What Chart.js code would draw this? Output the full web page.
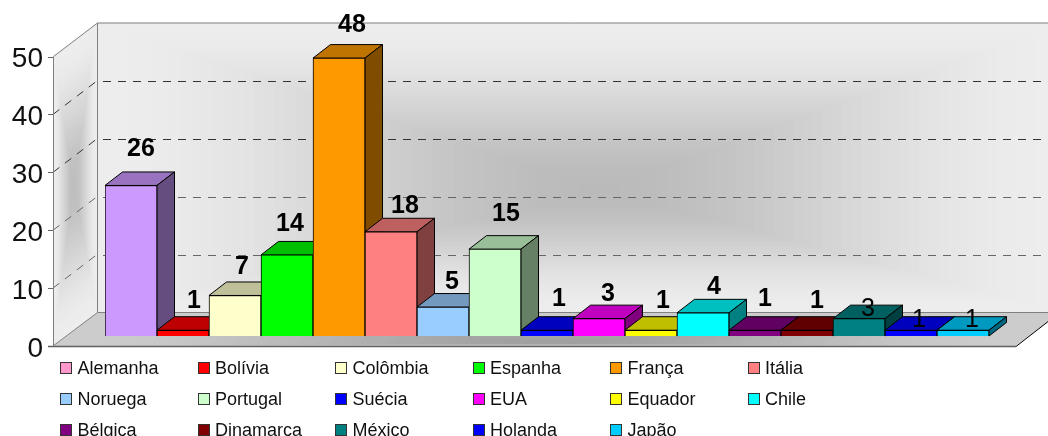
<!DOCTYPE html>
<html>
<head>
<meta charset="utf-8">
<title>Chart</title>
<script src="https://cdn.jsdelivr.net/npm/chart.js@4"></script>
<style>
html,body{margin:0;padding:0;background:#fff;overflow:hidden}
canvas{display:block}
</style>
</head>
<body>
<canvas id="myChart" width="1048" height="436"></canvas>
<script>
var categories = ["Alemanha","Bolívia","Colômbia","Espanha","França","Itália","Noruega","Portugal","Suécia","EUA","Equador","Chile","Bélgica","Dinamarca","México","Holanda","Japão"]
var values = [26,1,7,14,48,18,5,15,1,3,1,4,1,1,3,1,1]
var yTicks = [0,10,20,30,40,50]

var barColors = ["#cc99ff","#ff0000","#ffffcc","#00ff00","#ff9900","#ff8080","#99ccff","#ccffcc","#0000ff","#ff00ff","#ffff00","#00ffff","#800080","#800000","#008080","#0000ff","#00ccff"]
var legendColors = ["#ff99cc","#ff0000","#ffffcc","#00ff00","#ff9900","#ff8080","#99ccff","#ccffcc","#0000ff","#ff00ff","#ffff00","#00ffff","#800080","#800000","#008080","#0000ff","#00ccff"]

// where the value text sits relative to the front top of its bar (the original placed these by hand)
var labelShiftX = [10,11,7,3,13,14,9,11,12,9,12,11,10,10,9,8,9]
var labelShiftY = [36,29,28,31,33,26,25,35,31,25,29,26,31,29,10,10,10]
var labelBold = [1,1,1,1,1,1,1,1,1,1,1,1,1,1,0,0,0]

var fontName = '"Liberation Sans", Arial, sans-serif'
var wallDepth = {x:44, y:-33.5}
var barDepth = {x:17.5, y:-13.5}
var frontEdge = {x:53, y:10}   // front left corner of floor, y is offset from the bars base

function shade(hex, k){
    var n = parseInt(hex.slice(1),16)
    return "rgb("+Math.round((n>>16)*k)+","+Math.round(((n>>8)&255)*k)+","+Math.round((n&255)*k)+")"
}

function poly(ctx, pts){
    ctx.beginPath()
    pts.forEach(function(p,i){
        if(i==0) ctx.moveTo(p[0],p[1])
        else ctx.lineTo(p[0],p[1])
    })
    ctx.closePath()
}

// excel style "from center" fill, polygon shrinks to the center step by step
function pathFill(ctx, pts, center, edgeGray, midGray){
    var steps = 48
    for(var s=0;s<steps;s++){
        var t = s/steps
        var g = Math.round(edgeGray + (midGray-edgeGray)*t*t*(3-2*t))
        ctx.fillStyle = "rgb("+g+","+g+","+g+")"
        poly(ctx, pts.map(function(p){
            return [p[0]+(center[0]-p[0])*t, p[1]+(center[1]-p[1])*t]
        }))
        ctx.fill()
    }
}

var walls = {
    id:"walls",
    beforeDatasetsDraw:function(chart){
        var ctx = chart.ctx
        var y = chart.scales.y
        var W = chart.width
        var x0 = frontEdge.x
        var y0 = y.getPixelForValue(0)+frontEdge.y
        var y50 = y.getPixelForValue(50)+frontEdge.y
        var bx0 = x0+wallDepth.x
        var by0 = y0+wallDepth.y
        var by50 = y50+wallDepth.y
        var floorRight = chart.chartArea.right+27

        ctx.save()
        // back wall
        ctx.save()
        poly(ctx,[[bx0,by50],[W,by50],[W,by0],[bx0,by0]])
        ctx.clip()
        pathFill(ctx,[[bx0,by50],[W+16,by50],[W+16,by0],[bx0,by0]],[600,190],237,186)
        ctx.restore()
        // left wall
        pathFill(ctx,[[x0,y50],[bx0,by50],[bx0,by0],[x0,y0]],[74,185],237,190)
        // floor
        ctx.save()
        poly(ctx,[[x0,y0],[bx0,by0],[W,by0],[W,y0-(W-floorRight)*33.5/44],[floorRight,y0]])
        ctx.clip()
        pathFill(ctx,[[x0,y0],[bx0,by0],[floorRight+44,by0],[floorRight,y0]],[555,y0-3],204,160)
        ctx.restore()

        // grid, dashed on both walls
        ctx.lineWidth = 1
        yTicks.forEach(function(v){
            var py = y.getPixelForValue(v)+frontEdge.y
            if(v>0 && v<50){
                ctx.strokeStyle = v>=30 ? "#333" : "#666"
                ctx.setLineDash([8,7])
                ctx.beginPath()
                ctx.moveTo(x0,py)
                ctx.lineTo(bx0,py+wallDepth.y)
                ctx.stroke()
                ctx.beginPath()
                ctx.moveTo(bx0+6,Math.round(py+wallDepth.y)+0.5)
                ctx.lineTo(W,Math.round(py+wallDepth.y)+0.5)
                ctx.stroke()
                ctx.setLineDash([])
            }
            ctx.strokeStyle = "#666"
            ctx.beginPath()
            ctx.moveTo(x0-5,Math.round(py)+0.5)
            ctx.lineTo(x0,Math.round(py)+0.5)
            ctx.stroke()
        })

        // wall outlines
        ctx.strokeStyle = "#808080"
        ctx.beginPath()
        ctx.moveTo(x0+0.5,y0)
        ctx.lineTo(x0+0.5,y50)
        ctx.lineTo(bx0+0.5,by50)
        ctx.lineTo(W,by50)
        ctx.moveTo(bx0+0.5,by50)
        ctx.lineTo(bx0+0.5,by0)
        ctx.lineTo(W,by0)
        ctx.moveTo(bx0+0.5,by0)
        ctx.lineTo(x0,y0)
        ctx.stroke()
        ctx.strokeStyle = "#606060"
        ctx.lineWidth = 1.5
        ctx.beginPath()
        ctx.moveTo(x0-5,y0+0.5)
        ctx.lineTo(floorRight,y0+0.5)
        ctx.stroke()
        ctx.strokeStyle = "#000"
        ctx.lineWidth = 1
        ctx.beginPath()
        ctx.moveTo(floorRight,y0+0.5)
        ctx.lineTo(W,y0-(W-floorRight)*33.5/44)
        ctx.stroke()

        // bar tops and sides, left to right, the fronts get drawn by chart.js afterwards
        ctx.strokeStyle = "#000"
        chart.getDatasetMeta(0).data.forEach(function(bar,i){
            var l = bar.x-bar.width/2, r = bar.x+bar.width/2, t = bar.y, b = bar.base
            var dx = barDepth.x, dy = barDepth.y
            ctx.fillStyle = shade(barColors[i],0.75)
            poly(ctx,[[l,t],[r,t],[r+dx,t+dy],[l+dx,t+dy]])
            ctx.fill()
            ctx.stroke()
            ctx.fillStyle = shade(barColors[i],0.5)
            poly(ctx,[[r,t],[r+dx,t+dy],[r+dx,b+dy],[r,b]])
            ctx.fill()
            ctx.stroke()
        })
        ctx.restore()
    },
    afterDatasetsDraw:function(chart){
        var ctx = chart.ctx
        ctx.save()
        // value text
        ctx.fillStyle = "#000"
        ctx.textAlign = "center"
        ctx.textBaseline = "middle"
        chart.getDatasetMeta(0).data.forEach(function(bar,i){
            ctx.font = (labelBold[i] ? "bold " : "")+"25px "+fontName
            ctx.fillText(values[i], bar.x+labelShiftX[i], bar.y-labelShiftY[i])
        })
        // legend, fixed grid of 6 columns, the built in one cant do even columns
        ctx.font = "18px "+fontName
        ctx.textAlign = "left"
        categories.forEach(function(name,i){
            var col = i%6, row = Math.floor(i/6)
            var lx = 60+col*137.5
            var ly = 368+row*31
            ctx.fillStyle = legendColors[i]
            ctx.fillRect(Math.round(lx)+0.5,ly-5.5,11,11)
            ctx.strokeStyle = "#333"
            ctx.strokeRect(Math.round(lx)+0.5,ly-5.5,11,11)
            ctx.fillStyle = "#111"
            ctx.fillText(name,lx+17.5,ly+1)
        })
        ctx.restore()
    }
}

Chart.defaults.font.family = fontName

var myChart = document.getElementById("myChart").getContext("2d")
var chart = new Chart(myChart,{
    type:"bar",
    data:{
        labels:categories,
        datasets:[{
            data:values,
            backgroundColor:barColors,
            borderColor:"#000",
            borderWidth:1,
            barPercentage:1,
            categoryPercentage:1
        }]
    },
    plugins:[walls],
    options:{
        responsive:false,
        animation:false,
        layout:{padding:{left:0,right:59,top:46.5,bottom:100}},
        plugins:{legend:{display:false},tooltip:{enabled:false}},
        scales:{
            x:{display:false},
            y:{
                min:0,
                max:50,
                afterFit:function(scale){
                    scale.width = 105
                    scale.paddingTop = 0
                    scale.paddingBottom = 0
                },
                afterBuildTicks:function(scale){
                    scale.ticks = yTicks.map(function(v){return {value:v}})
                },
                grid:{display:false,drawTicks:false},
                border:{display:false},
                ticks:{
                    color:"#111",
                    padding:62,
                    labelOffset:13,
                    autoSkip:false,
                    font:{size:28}
                }
            }
        }
    }
})
</script>
</body>
</html>
